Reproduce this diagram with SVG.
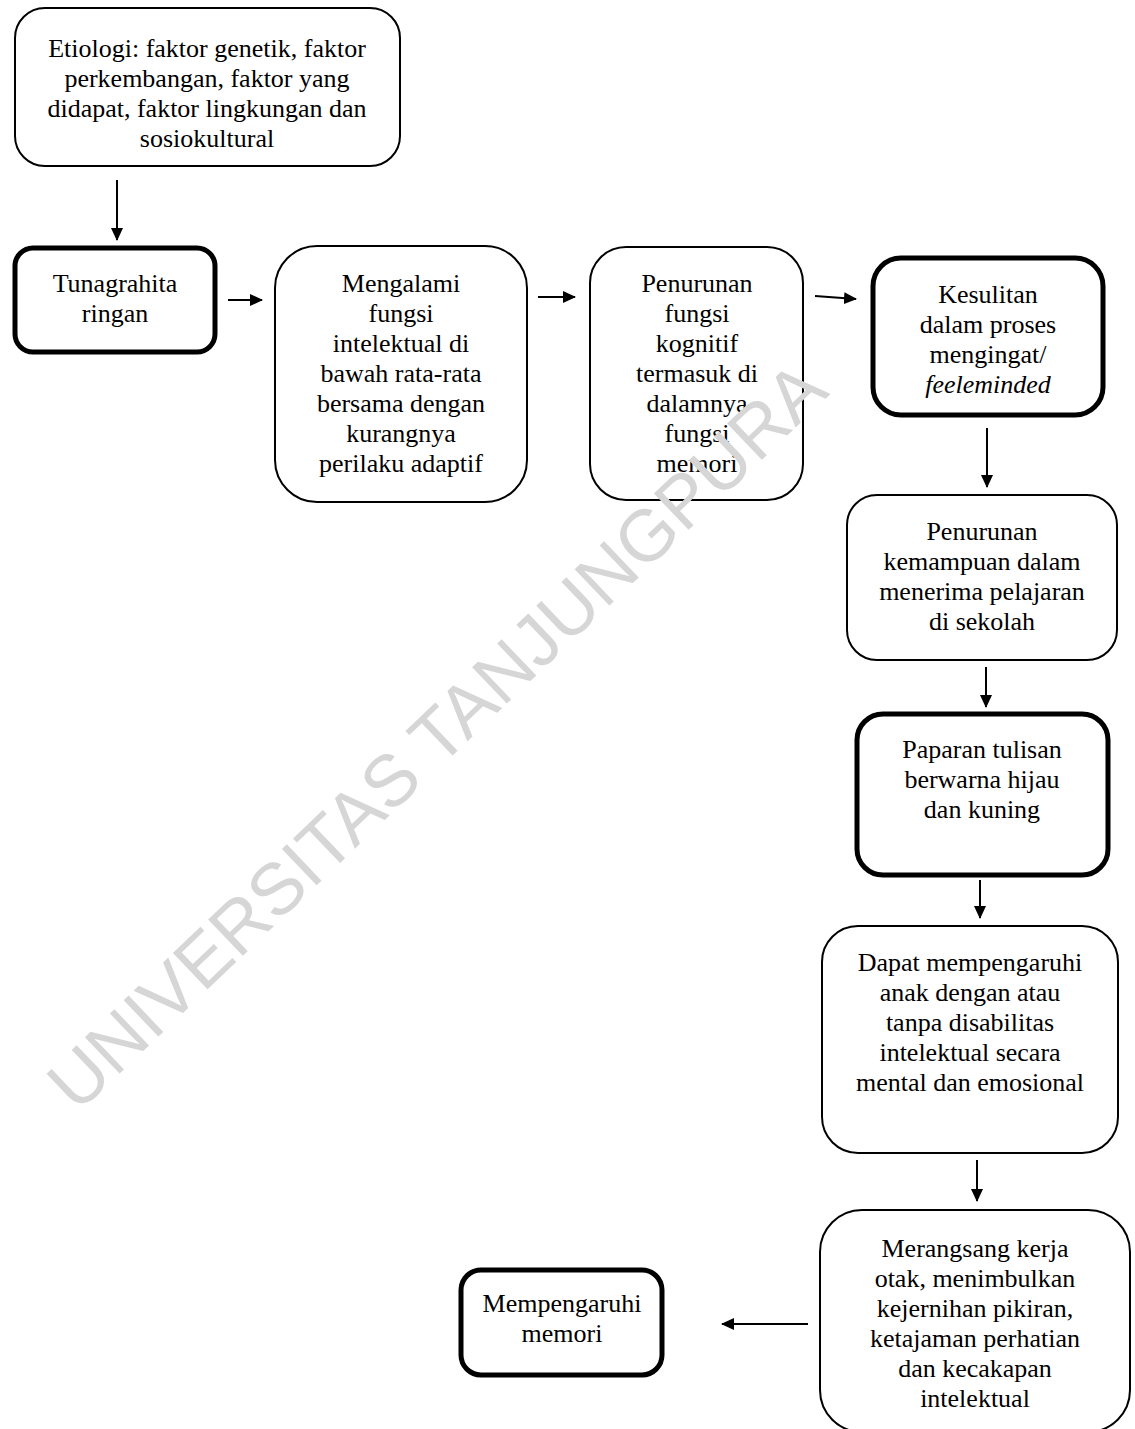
<svg xmlns="http://www.w3.org/2000/svg" width="1135" height="1429" viewBox="0 0 1135 1429">
<style>
.box{fill:#fff;stroke:#000;stroke-width:2}
.thick{stroke-width:5}
.t{font-family:"Liberation Serif","Times New Roman",serif;font-size:26px;fill:#000;text-anchor:middle}
.i{font-style:italic}
.c{stroke:#000;stroke-width:2;fill:none;marker-end:url(#ah)}
.wm{font-family:"Liberation Sans",Arial,sans-serif;font-size:73px;fill:#d6d6d6;text-anchor:middle}
</style>
<defs>
<marker id="ah" viewBox="0 0 13 12" refX="12" refY="6" markerWidth="13" markerHeight="12" markerUnits="userSpaceOnUse" orient="auto">
<path d="M0,0 L13,6 L0,12 z" fill="#000"/>
</marker>
</defs>
<rect width="1135" height="1429" fill="#fff"/>
<g id="n1"><rect class="box" x="15" y="8" width="385" height="158" rx="30"/>
<text class="t"><tspan x="207" y="57">Etiologi: faktor genetik, faktor</tspan><tspan x="207" y="87">perkembangan, faktor yang</tspan><tspan x="207" y="117">didapat, faktor lingkungan dan</tspan><tspan x="207" y="147">sosiokultural</tspan></text></g>
<g id="n2"><rect class="box thick" x="15" y="248" width="200" height="104" rx="18"/>
<text class="t"><tspan x="115" y="292">Tunagrahita</tspan><tspan x="115" y="322">ringan</tspan></text></g>
<g id="n3"><rect class="box" x="275" y="246" width="252" height="256" rx="42"/>
<text class="t"><tspan x="401" y="292">Mengalami</tspan><tspan x="401" y="322">fungsi</tspan><tspan x="401" y="352">intelektual di</tspan><tspan x="401" y="382">bawah rata-rata</tspan><tspan x="401" y="412">bersama dengan</tspan><tspan x="401" y="442">kurangnya</tspan><tspan x="401" y="472">perilaku adaptif</tspan></text></g>
<g id="n4"><rect class="box" x="590" y="247" width="213" height="253" rx="36"/>
<text class="t"><tspan x="697" y="292">Penurunan</tspan><tspan x="697" y="322">fungsi</tspan><tspan x="697" y="352">kognitif</tspan><tspan x="697" y="382">termasuk di</tspan><tspan x="697" y="412">dalamnya</tspan><tspan x="697" y="442">fungsi</tspan><tspan x="697" y="472">memori</tspan></text></g>
<g id="n5"><rect class="box thick" x="873" y="258" width="230" height="157" rx="28"/>
<text class="t"><tspan x="988" y="303">Kesulitan</tspan><tspan x="988" y="333">dalam proses</tspan><tspan x="988" y="363">mengingat/</tspan><tspan x="988" y="393" class="i">feeleminded</tspan></text></g>
<g id="n6"><rect class="box" x="847" y="495" width="270" height="165" rx="30"/>
<text class="t"><tspan x="982" y="540">Penurunan</tspan><tspan x="982" y="570">kemampuan dalam</tspan><tspan x="982" y="600">menerima pelajaran</tspan><tspan x="982" y="630">di sekolah</tspan></text></g>
<g id="n7"><rect class="box thick" x="857" y="714" width="251" height="161" rx="26"/>
<text class="t"><tspan x="982" y="758">Paparan tulisan</tspan><tspan x="982" y="788">berwarna hijau</tspan><tspan x="982" y="818">dan kuning</tspan></text></g>
<g id="n8"><rect class="box" x="822" y="926" width="296" height="227" rx="36"/>
<text class="t"><tspan x="970" y="971">Dapat mempengaruhi</tspan><tspan x="970" y="1001">anak dengan atau</tspan><tspan x="970" y="1031">tanpa disabilitas</tspan><tspan x="970" y="1061">intelektual secara</tspan><tspan x="970" y="1091">mental dan emosional</tspan></text></g>
<g id="n9"><rect class="box" x="820" y="1210" width="310" height="222" rx="42"/>
<text class="t"><tspan x="975" y="1257">Merangsang kerja</tspan><tspan x="975" y="1287">otak, menimbulkan</tspan><tspan x="975" y="1317">kejernihan pikiran,</tspan><tspan x="975" y="1347">ketajaman perhatian</tspan><tspan x="975" y="1377">dan kecakapan</tspan><tspan x="975" y="1407">intelektual</tspan></text></g>
<g id="n10"><rect class="box thick" x="461" y="1270" width="201" height="105" rx="20"/>
<text class="t"><tspan x="562" y="1312">Mempengaruhi</tspan><tspan x="562" y="1342">memori</tspan></text></g>
<g id="connectors">
<line class="c" x1="117" y1="180" x2="117" y2="240"/>
<line class="c" x1="228" y1="300" x2="262" y2="300"/>
<line class="c" x1="538" y1="297" x2="575" y2="297"/>
<line class="c" x1="815" y1="296" x2="856" y2="299"/>
<line class="c" x1="987" y1="428" x2="987" y2="487"/>
<line class="c" x1="986" y1="667" x2="986" y2="707"/>
<line class="c" x1="980" y1="880" x2="980" y2="918"/>
<line class="c" x1="977" y1="1160" x2="977" y2="1201"/>
<line class="c" x1="808" y1="1324" x2="722" y2="1324"/>
</g>
<text class="wm" x="454" y="754" transform="rotate(-43.7 454 754)">UNIVERSITAS TANJUNGPURA</text>
</svg>
